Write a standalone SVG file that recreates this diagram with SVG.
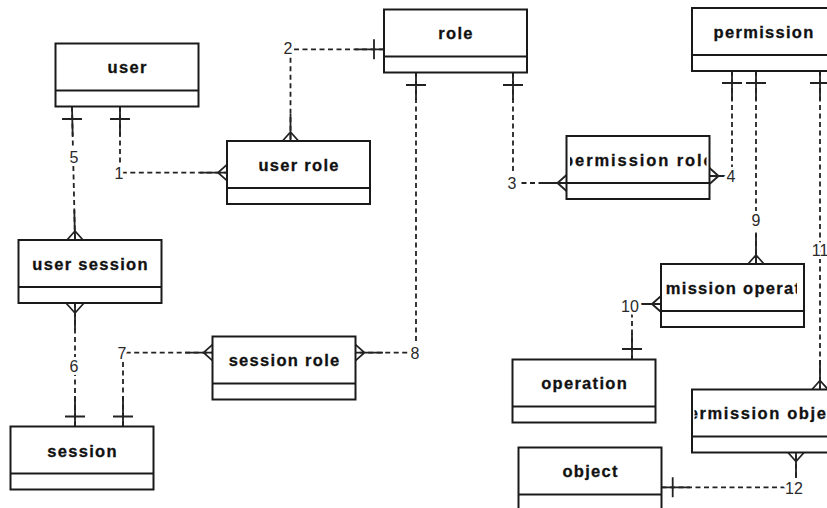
<svg xmlns="http://www.w3.org/2000/svg" width="827" height="508" viewBox="0 0 827 508">
  <style>
    .box { fill: #ffffff; stroke: #1a1a1a; stroke-width: 2; }
    .div { stroke: #1a1a1a; stroke-width: 2; fill: none; }
    .title { font-family: "Liberation Sans", Arial, sans-serif; font-weight: bold; font-size: 16.5px; letter-spacing: 1.3px; fill: #111111; stroke: #111111; stroke-width: 0.3; text-anchor: middle; }
    .dash { fill: none; stroke: #222222; stroke-width: 1.8; stroke-dasharray: 5 3.5; }
    .solid { fill: none; stroke: #222222; stroke-width: 1.8; }
    .lbl { font-family: "Liberation Sans", Arial, sans-serif; font-size: 16px; fill: #2a2a2a; text-anchor: middle; dominant-baseline: central; stroke: #ffffff; stroke-width: 6; paint-order: stroke; stroke-linejoin: round; }
  </style>
  <defs>
    <!-- long entity names are cut at the inner edge of their box -->
    <clipPath id="clip-permission-role"><rect x="570" y="136" width="136.5" height="47"/></clipPath>
    <clipPath id="clip-permission-operation"><rect x="665.5" y="264" width="131.5" height="47"/></clipPath>
    <clipPath id="clip-permission-object"><rect x="694.5" y="389.5" width="137" height="47"/></clipPath>
  </defs>
  <rect x="0" y="0" width="827" height="508" fill="#ffffff"/>

  <g id="connectors">
    <!-- 1: user -> user role -->
    <path class="dash" d="M120,106.5 V172.7 H227"/>
    <path class="solid" d="M120,106.5 V136 M110,119 H130 M200,172.7 H227 M218,172.7 L227,164.7 M218,172.7 L227,180.7"/>
    <text class="lbl" x="119" y="173">1</text>

    <!-- 2: role -> user role -->
    <path class="dash" d="M384,49.3 H290.5 V141"/>
    <path class="solid" d="M355,49.3 H384 M374,39.3 V59.3 M290.5,114 V141 M290.5,132 L282.5,141 M290.5,132 L298.5,141"/>
    <text class="lbl" x="288" y="48">2</text>

    <!-- 3: role -> permission role -->
    <path class="dash" d="M513,72.5 V183 H566.5"/>
    <path class="solid" d="M513,72.5 V100 M503,85 H523 M540,183 H566.5 M557.5,183 L566.5,175 M557.5,183 L566.5,191"/>
    <text class="lbl" x="512" y="183">3</text>

    <!-- 4: permission -> permission role -->
    <path class="dash" d="M732,71 V176 H709.5"/>
    <path class="solid" d="M732,71 V100 M722,83 H742 M709.5,176 H726 M718.5,176 L709.5,168 M718.5,176 L709.5,184"/>
    <text class="lbl" x="731" y="176">4</text>

    <!-- 9: permission -> permission operation -->
    <path class="dash" d="M756,71 V264"/>
    <path class="solid" d="M756,71 V100 M746,83 H766 M756,234 V264 M756,255 L748,264 M756,255 L764,264"/>
    <text class="lbl" x="756" y="220">9</text>

    <!-- 11: permission -> permission object -->
    <path class="dash" d="M820,71 V389.5"/>
    <path class="solid" d="M820,71 V100 M810,83 H830 M820,360 V389.5 M820,380.5 L812,389.5 M820,380.5 L828,389.5"/>
    <text class="lbl" x="820" y="250">11</text>

    <!-- 10: operation -> permission operation -->
    <path class="dash" d="M632,304 V359.5"/>
    <path class="solid" d="M632,304 H661 M652,304 L661,296 M652,304 L661,312 M632,333 V359.5 M622,349 H642"/>
    <text class="lbl" x="630" y="306">10</text>

    <!-- 12: object -> permission object -->
    <path class="dash" d="M661.5,487.3 H796 V452.5"/>
    <path class="solid" d="M661.5,487.3 H690 M672.7,477.3 V497.3 M796,452.5 V478 M796,461.5 L788,452.5 M796,461.5 L804,452.5"/>
    <text class="lbl" x="794" y="488">12</text>

    <!-- 5: user -> user session -->
    <path class="dash" d="M72,106.5 L75,240"/>
    <path class="solid" d="M72,106.5 L72.7,136 M62,119 H82 M74.3,210 L75,240 M75,231 L67,240 M75,231 L83,240"/>
    <text class="lbl" x="74" y="157">5</text>

    <!-- 6: session -> user session -->
    <path class="dash" d="M75,303 V426.5"/>
    <path class="solid" d="M75,303 V330 M75,313 L66,303 M75,313 L84,303 M75,396 V426.5 M65,416.5 H85"/>
    <text class="lbl" x="74" y="366">6</text>

    <!-- 7: session -> session role -->
    <path class="dash" d="M123,426.5 V352.7 H212.5"/>
    <path class="solid" d="M123,396 V426.5 M113,416.5 H133 M185,352.7 H212.5 M203.5,352.7 L212.5,344.7 M203.5,352.7 L212.5,360.7"/>
    <text class="lbl" x="122" y="353">7</text>

    <!-- 8: role -> session role -->
    <path class="dash" d="M416,72.5 V352.7 H355.5"/>
    <path class="solid" d="M416,72.5 V100 M406,85 H426 M355.5,352.7 H383 M364.5,352.7 L355.5,344.7 M364.5,352.7 L355.5,360.7"/>
    <text class="lbl" x="415" y="353">8</text>
  </g>

  <g id="user">
    <rect class="box" x="55.5" y="43.5" width="143" height="63"/>
    <path class="div" d="M55.5,90.5 H198.5"/>
    <text class="title" x="127.6" y="73.3">user</text>
  </g>
  <g id="user-role">
    <rect class="box" x="227" y="141" width="143" height="63"/>
    <path class="div" d="M227,188 H370"/>
    <text class="title" x="299.1" y="170.8">user role</text>
  </g>
  <g id="role">
    <rect class="box" x="384" y="9.5" width="143" height="63"/>
    <path class="div" d="M384,56.5 H527"/>
    <text class="title" x="456.1" y="39.3">role</text>
  </g>
  <g id="permission">
    <rect class="box" x="692" y="8" width="143" height="63"/>
    <path class="div" d="M692,55 H835"/>
    <text class="title" x="764.1" y="37.8">permission</text>
  </g>
  <g id="permission-role">
    <rect class="box" x="566.5" y="136" width="143" height="63"/>
    <path class="div" d="M566.5,183 H709.5"/>
    <text class="title" x="638.6" y="165.8" textLength="151" lengthAdjust="spacing" clip-path="url(#clip-permission-role)">permission role</text>
  </g>
  <g id="user-session">
    <rect class="box" x="18.5" y="240" width="143" height="63"/>
    <path class="div" d="M18.5,287 H161.5"/>
    <text class="title" x="90.6" y="269.8">user session</text>
  </g>
  <g id="session">
    <rect class="box" x="10.5" y="426.5" width="143" height="63"/>
    <path class="div" d="M10.5,473.5 H153.5"/>
    <text class="title" x="82.6" y="456.5">session</text>
  </g>
  <g id="session-role">
    <rect class="box" x="212.5" y="336.5" width="143" height="63"/>
    <path class="div" d="M212.5,383.5 H355.5"/>
    <text class="title" x="284.6" y="366.3">session role</text>
  </g>
  <g id="permission-operation">
    <rect class="box" x="661" y="264" width="143" height="63"/>
    <path class="div" d="M661,311 H804"/>
    <text class="title" x="733.1" y="293.8" clip-path="url(#clip-permission-operation)">permission operation</text>
  </g>
  <g id="operation">
    <rect class="box" x="512.5" y="359.5" width="143" height="63"/>
    <path class="div" d="M512.5,406.5 H655.5"/>
    <text class="title" x="584.6" y="389.3">operation</text>
  </g>
  <g id="permission-object">
    <rect class="box" x="692" y="389.5" width="143" height="63"/>
    <path class="div" d="M692,436.5 H835"/>
    <text class="title" x="761" y="419.3" textLength="168" lengthAdjust="spacing" clip-path="url(#clip-permission-object)">permission object</text>
  </g>
  <g id="object">
    <rect class="box" x="518.5" y="447.5" width="143" height="63"/>
    <path class="div" d="M518.5,494.5 H661.5"/>
    <text class="title" x="590.6" y="477.3">object</text>
  </g>
</svg>
